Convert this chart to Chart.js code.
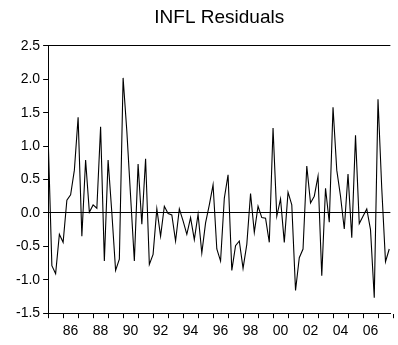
<!DOCTYPE html>
<html lang="en">
<head>
  <meta charset="UTF-8">
  <title>INFL Residuals</title>
  <script src="https://cdn.jsdelivr.net/npm/chart.js"></script>
  <style>
    body { margin: 0; background: #fff; }
    #wrap { width: 398px; height: 345px; position: relative; }
  </style>
</head>
<body>
  <div id="wrap"><canvas id="myChart"></canvas></div>

  <script>
    // quarterly residuals, 1985Q1 .. 2007Q4
    const startYear = 1985;
    const residuals = [
      1.14, -0.79, -0.91, -0.32, -0.44, 0.19, 0.27, 0.64,
      1.43, -0.35, 0.79, 0.01, 0.12, 0.07, 1.29, -0.72,
      0.79, 0.00, -0.86, -0.69, 2.02, 1.22, 0.25, -0.72,
      0.73, -0.17, 0.81, -0.77, -0.62, 0.06, -0.35, 0.10,
      -0.01, -0.03, -0.42, 0.06, -0.12, -0.32, -0.07, -0.40,
      -0.02, -0.60, -0.15, 0.12, 0.42, -0.54, -0.72, 0.22,
      0.57, -0.86, -0.49, -0.42, -0.83, -0.47, 0.29, -0.29,
      0.10, -0.07, -0.08, -0.44, 1.27, -0.05, 0.21, -0.44,
      0.31, 0.12, -1.16, -0.67, -0.54, 0.70, 0.15, 0.25,
      0.55, -0.94, 0.37, -0.14, 1.58, 0.64, 0.25, -0.24,
      0.58, -0.37, 1.16, -0.16, -0.05, 0.06, -0.25, -1.27,
      1.70, 0.37, -0.73, -0.54
    ];
    const yearLabels = ['86', '88', '90', '92', '94', '96', '98', '00', '02', '04', '06'];
    const yMin = -1.5, yMax = 2.5, yStep = 0.5;

    const points = residuals.map((v, i) => ({ x: i, y: v }));

    // label positions: middle of each labelled year (index of Q1 + 1.5)
    const labelAt = {};
    yearLabels.forEach(lbl => {
      let yr = parseInt(lbl, 10);
      yr += yr < 50 ? 2000 : 1900;
      labelAt[(yr - startYear) * 4 + 2] = lbl;
    });

    const black = '#000';
    const font = { family: "'Liberation Sans', Arial, sans-serif", size: 14 };

    new Chart(document.getElementById('myChart'), {
      type: 'line',
      data: {
        datasets: [{
          data: points,
          borderColor: black,
          borderWidth: 1.1,
          pointRadius: 0,
          tension: 0,
          fill: false
        }]
      },
      options: {
        responsive: true,
        maintainAspectRatio: false,
        animation: false,
        layout: { padding: { left: 13, right: 0, top: 0, bottom: 0 } },
        plugins: {
          legend: { display: false },
          tooltip: { enabled: false },
          title: {
            display: true,
            fullSize: false,   // centre over the plot, not the whole canvas
            text: 'INFL Residuals',
            color: black,
            font: { family: font.family, size: 19, weight: 'normal' },
            padding: { top: 6, bottom: 17 }
          }
        },
        scales: {
          x: {
            type: 'linear',
            min: 0,
            max: residuals.length - 0.7,
            afterBuildTicks: axis => {
              const t = [];
              for (let v = 0; v <= residuals.length; v += 2) t.push({ value: v });
              axis.ticks = t;
            },
            border: { display: true, color: black, width: 1 },
            grid: {
              drawOnChartArea: false,
              drawTicks: true,
              tickLength: 5,
              tickColor: ctx => (ctx.tick && ctx.tick.value % 4 === 0) ? black : 'rgba(0,0,0,0)'
            },
            ticks: {
              autoSkip: false,
              maxRotation: 0,
              padding: 5,
              color: black,
              font: font,
              callback: v => labelAt[v] || ''
            }
          },
          y: {
            min: yMin,
            max: yMax,
            border: { display: true, color: black, width: 1 },
            grid: {
              drawTicks: true,
              tickLength: 5,
              tickColor: black,
              color: ctx => (ctx.tick && (ctx.tick.value === 0 || ctx.tick.value === yMax)) ? black : 'rgba(0,0,0,0)'
            },
            ticks: {
              stepSize: yStep,
              padding: 3,
              color: black,
              font: font,
              callback: v => Number(v).toFixed(1)
            }
          }
        }
      }
    });
  </script>
</body>
</html>
